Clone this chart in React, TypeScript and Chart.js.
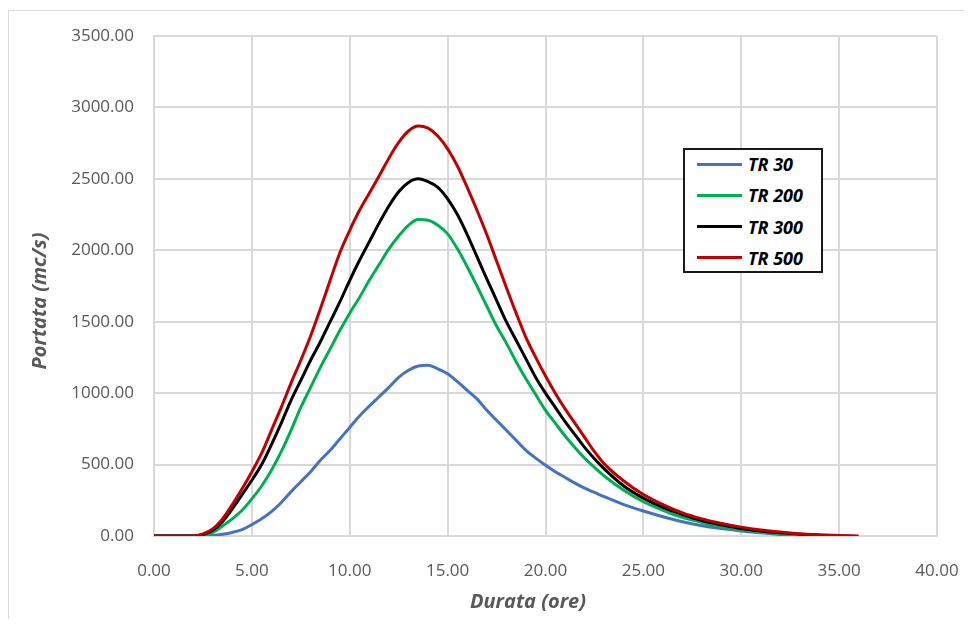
import React, { useEffect, useRef } from "react";
import { Chart, registerables } from "chart.js";

Chart.register(...registerables);

// Hours (x values)
const hours = [
  0, 1, 2, 2.5, 3, 3.5, 4, 4.5, 5, 5.5, 6, 6.5, 7, 7.5, 8, 8.5, 9, 9.5, 10, 10.5,
  11, 11.5, 12, 12.5, 13, 13.5, 14, 14.5, 15, 15.5, 16, 16.5, 17, 17.5, 18, 18.5,
  19, 19.5, 20, 20.5, 21, 21.5, 22, 22.5, 23, 24, 25, 26, 27, 28, 29, 30, 31, 32,
  33, 34, 35, 36,
];

const tr30 = [
  0, 0, 0, 0, 5, 12, 25, 45, 80, 120, 170, 235, 310, 380, 450, 530, 600, 680, 760, 840,
  910, 975, 1040, 1110, 1160, 1190, 1195, 1170, 1135, 1080, 1020, 960, 880, 810, 740, 670,
  600, 545, 495, 450, 410, 370, 335, 305, 275, 220, 175, 135, 100, 72, 52, 35, 22, 10,
  0, null, null, null,
];

const tr200 = [
  0, 0, 0, 5, 25, 70, 120, 180, 260, 350, 460, 590, 740, 900, 1040, 1180, 1310, 1440, 1560, 1670,
  1790, 1900, 2010, 2100, 2175, 2215, 2210, 2175, 2115, 2010, 1885, 1750, 1610, 1470, 1350, 1220,
  1100, 990, 880, 790, 700, 620, 545, 480, 420, 320, 240, 180, 130, 95, 65, 45, 28, 15,
  0, null, null, null,
];

const tr300 = [
  0, 0, 0, 10, 40, 100, 190, 290, 390, 500, 640, 790, 950, 1090, 1230, 1360, 1500, 1640, 1790, 1930,
  2060, 2190, 2310, 2410, 2475, 2500, 2480, 2440, 2360, 2250, 2110, 1955, 1800, 1650, 1500, 1370,
  1240, 1110, 1000, 900, 800, 710, 620, 540, 470, 350, 265, 200, 150, 108, 78, 52, 35, 22,
  12, 0, null, null,
];

const tr500 = [
  0, 0, 0, 15, 50, 120, 220, 330, 450, 580, 740, 900, 1070, 1230, 1400, 1590, 1790, 1985, 2140, 2280,
  2400, 2520, 2645, 2755, 2835, 2870, 2855, 2800, 2710, 2590, 2440, 2280, 2110, 1925, 1740, 1560,
  1390, 1250, 1120, 1000, 890, 790, 690, 590, 505, 385, 290, 220, 162, 120, 88, 62, 42, 28,
  16, 9, 4, 0,
];

const seriesNames = ["TR 30", "TR 200", "TR 300", "TR 500"];
const seriesColors = ["#4472C4", "#00B050", "#000000", "#C00000"];
const xTicks = [0, 5, 10, 15, 20, 25, 30, 35, 40];
const yTicks = [0, 500, 1000, 1500, 2000, 2500, 3000, 3500];
const xTitle = "Durata (ore)";
const yTitle = "Portata (mc/s)";

const W = 956;
const H = 611;
const FONT = "'Open Sans', 'Noto Sans', sans-serif";

const decor = {
  id: "decor",
  beforeDraw(chart: any) {
    const ctx = chart.ctx;
    ctx.save();
    ctx.strokeStyle = "#d9d9d9";
    ctx.lineWidth = 1;
    ctx.beginPath();
    ctx.moveTo(0.5, H);
    ctx.lineTo(0.5, 2.5);
    ctx.lineTo(W, 2.5);
    ctx.stroke();
    ctx.restore();
  },
  afterDraw(chart: any) {
    const ctx = chart.ctx;
    ctx.save();
    ctx.fillStyle = "#595959";
    ctx.font = `italic bold 20px ${FONT}`;
    ctx.textAlign = "center";
    ctx.textBaseline = "alphabetic";
    ctx.fillText(xTitle, 520, 600);
    ctx.translate(38, 293);
    ctx.rotate(-Math.PI / 2);
    ctx.fillText(yTitle, 0, 0);
    ctx.restore();
  },
};

export default function App() {
  const ref = useRef<HTMLCanvasElement>(null);

  useEffect(() => {
    const values = [tr30, tr200, tr300, tr500];
    const chart = new Chart(ref.current as HTMLCanvasElement, {
      type: "line",
      data: {
        datasets: values.map((vals, i) => ({
          label: seriesNames[i],
          data: hours
            .map((h, j) => ({ x: h, y: vals[j] }))
            .filter((p) => p.y !== null),
          borderColor: seriesColors[i],
          backgroundColor: seriesColors[i],
          borderWidth: 3,
          pointRadius: 0,
          tension: 0.3,
          cubicInterpolationMode: "monotone",
          order: 3 - i,
          fill: false,
        })),
      } as any,
      options: {
        responsive: false,
        animation: false,
        events: [],
        layout: { padding: { top: 28, right: 27, left: 0, bottom: 0 } },
        plugins: {
          legend: { display: false },
          tooltip: { enabled: false },
        },
        scales: {
          x: {
            type: "linear",
            min: 0,
            max: 40,
            afterBuildTicks: (s: any) => {
              s.ticks = xTicks.map((v) => ({ value: v }));
            },
            afterFit: (s: any) => {
              s.height = 83;
              s.paddingLeft = 0;
              s.paddingRight = 0;
            },
            grid: { color: "#d9d9d9", lineWidth: 2, drawTicks: false },
            border: { color: "#d9d9d9", width: 2 },
            ticks: {
              padding: 25,
              color: "#595959",
              font: { family: FONT, size: 17 },
              maxRotation: 0,
              autoSkip: false,
              callback: (v: any) => Number(v).toFixed(2),
            },
          },
          y: {
            type: "linear",
            min: 0,
            max: 3500,
            afterBuildTicks: (s: any) => {
              s.ticks = yTicks.map((v) => ({ value: v }));
            },
            afterFit: (s: any) => {
              s.width = 146;
              s.paddingTop = 0;
              s.paddingBottom = 0;
            },
            grid: { color: "#d9d9d9", lineWidth: 2, drawTicks: false },
            border: { color: "#d9d9d9", width: 2 },
            ticks: {
              padding: 20,
              color: "#595959",
              font: { family: FONT, size: 17 },
              autoSkip: false,
              callback: (v: any) => Number(v).toFixed(2),
            },
          },
        },
      } as any,
      plugins: [decor],
    });
    return () => chart.destroy();
  }, []);

  return (
    <div style={{ position: "relative", width: W, height: H, background: "#fff" }}>
      <canvas ref={ref} width={W} height={H} style={{ display: "block", width: W, height: H }} />
      <div
        style={{
          position: "absolute",
          left: 675,
          top: 140,
          width: 140,
          height: 125,
          boxSizing: "border-box",
          border: "2px solid #1a1a1a",
          background: "#fff",
        }}
      >
        {seriesNames.map((name, i) => (
          <div
            key={name}
            style={{
              position: "absolute",
              left: 12,
              top: 14 + i * 31.3 - 12,
              height: 24,
              display: "flex",
              alignItems: "center",
              whiteSpace: "nowrap",
            }}
          >
            <span
              style={{
                display: "inline-block",
                width: 45,
                height: 3,
                background: seriesColors[i],
                marginRight: 6,
              }}
            />
            <span
              style={{
                fontFamily: FONT,
                fontWeight: 700,
                fontStyle: "italic",
                fontSize: 18,
                color: "#000",
                lineHeight: "24px",
              }}
            >
              {name}
            </span>
          </div>
        ))}
      </div>
    </div>
  );
}
